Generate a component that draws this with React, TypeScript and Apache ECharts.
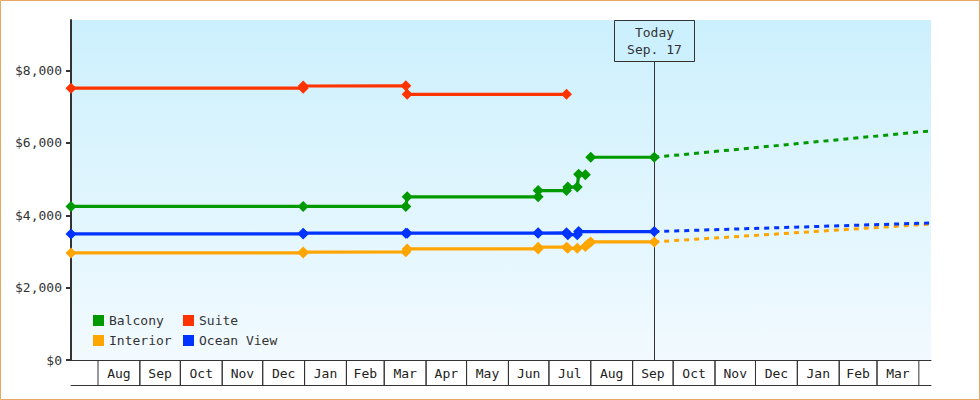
import { useEffect, useRef } from "react";
import * as echarts from "echarts";

// dates are parsed as local midnight so everything lines up on the time axis
const ts = (s: string) => {
  const [y, m, d] = s.split("-").map(Number);
  return new Date(y, m - 1, d).getTime();
};

const FONT = '"DejaVu Sans Mono", monospace';
const INK = "#333333";

const axisStart = "2013-07-12";
const axisEnd = "2015-04-10";
const today = "2014-09-17";
const todayLabel = ["Today", "Sep. 17"];

const yTicks = [0, 2000, 4000, 6000, 8000];
const yMax = 9400;

const monthStarts = [
  "2013-08-01", "2013-09-01", "2013-10-01", "2013-11-01", "2013-12-01",
  "2014-01-01", "2014-02-01", "2014-03-01", "2014-04-01", "2014-05-01",
  "2014-06-01", "2014-07-01", "2014-08-01", "2014-09-01", "2014-10-01",
  "2014-11-01", "2014-12-01", "2015-01-01", "2015-02-01", "2015-03-01",
  "2015-04-01",
];
const monthLabels = [
  "Aug", "Sep", "Oct", "Nov", "Dec", "Jan", "Feb", "Mar", "Apr", "May",
  "Jun", "Jul", "Aug", "Sep", "Oct", "Nov", "Dec", "Jan", "Feb", "Mar",
];

type Pt = [string, number | null];

const balcony: Pt[] = [
  ["2013-07-12", 4245], ["2013-12-31", 4245], ["2014-03-17", 4245],
  ["2014-03-18", 4510], ["2014-06-23", 4510], ["2014-06-23", 4685],
  ["2014-07-14", 4685], ["2014-07-15", 4780], ["2014-07-22", 4780],
  ["2014-07-23", 5135], ["2014-07-28", 5125], ["2014-08-01", null],
  ["2014-08-01", 5605], ["2014-09-17", 5605],
];
const suite: Pt[] = [
  ["2013-07-12", 7515], ["2013-12-31", 7515], ["2013-12-31", 7575],
  ["2014-03-17", 7580], ["2014-03-18", 7345], ["2014-07-14", 7345],
];
const interior: Pt[] = [
  ["2013-07-12", 2960], ["2013-12-31", 2960], ["2013-12-31", 2985],
  ["2014-03-17", 2990], ["2014-03-18", 3070], ["2014-06-23", 3070],
  ["2014-06-23", 3120], ["2014-07-14", 3120], ["2014-07-15", 3090],
  ["2014-07-22", 3090], ["2014-07-28", 3140], ["2014-07-30", 3205],
  ["2014-08-01", 3265], ["2014-09-17", 3265],
];
const oceanView: Pt[] = [
  ["2013-07-12", 3485], ["2013-12-31", 3485], ["2013-12-31", 3505],
  ["2014-03-17", 3505], ["2014-03-18", 3505], ["2014-06-23", 3505],
  ["2014-06-23", 3515], ["2014-07-14", 3515], ["2014-07-15", 3465],
  ["2014-07-22", 3465], ["2014-07-23", 3550], ["2014-09-17", 3550],
];

// projections from today to the end of the axis
const balconyForecast: Pt[] = [["2014-09-17", 5605], ["2015-04-10", 6335]];
const oceanViewForecast: Pt[] = [["2014-09-17", 3550], ["2015-04-10", 3790]];
const interiorForecast: Pt[] = [["2014-09-17", 3265], ["2015-04-10", 3760]];

const colors = {
  Balcony: "#009900",
  Suite: "#ff3300",
  Interior: "#ffa500",
  "Ocean View": "#0033ff",
};

const toData = (pts: Pt[]) => pts.map(([d, v]) => [ts(d), v]);

const history = (name: keyof typeof colors, pts: Pt[]) => ({
  name,
  type: "line",
  data: toData(pts),
  color: colors[name],
  symbol: "diamond",
  symbolSize: 11,
  showAllSymbol: true,
  connectNulls: false,
  lineStyle: { width: 3.2 },
  emphasis: { disabled: true },
  z: 3,
});

const forecast = (name: keyof typeof colors, pts: Pt[]) => ({
  name: name + " forecast",
  type: "line",
  data: toData(pts),
  color: colors[name],
  showSymbol: false,
  lineStyle: { width: 3, type: [5, 5] },
  emphasis: { disabled: true },
  z: 2,
});

const legendBase = {
  orient: "vertical",
  top: 309,
  itemGap: 7,
  itemWidth: 11,
  itemHeight: 11,
  icon: "rect",
  selectedMode: false,
  textStyle: { fontFamily: FONT, fontSize: 13, color: INK },
};

export default function App() {
  const ref = useRef<HTMLDivElement>(null);

  useEffect(() => {
    document.body.style.margin = "0";
    if (!ref.current) return;
    const chart = echarts.init(ref.current, null, { renderer: "svg" });

    const monthCells = monthLabels.map((_, i) => [
      ts(monthStarts[i]),
      0,
      ts(monthStarts[i + 1]),
    ]);

    const option = {
      animation: false,
      grid: {
        left: 71,
        right: 49,
        top: 20,
        bottom: 40,
        show: true,
        borderWidth: 0,
        outerBoundsMode: "none",
        backgroundColor: new echarts.graphic.LinearGradient(0, 0, 0, 1, [
          { offset: 0, color: "#ccf0fd" },
          { offset: 1, color: "#f2faff" },
        ]),
      },
      xAxis: [
        {
          type: "time",
          min: ts(axisStart),
          max: ts(axisEnd),
          axisLine: { lineStyle: { color: INK, width: 1 } },
          axisTick: { show: false },
          axisLabel: { show: false },
          splitLine: { show: false },
        },
        {
          type: "time",
          min: ts(axisStart),
          max: ts(axisEnd),
          position: "bottom",
          offset: 25,
          axisLine: { lineStyle: { color: INK, width: 1 } },
          axisTick: { show: false },
          axisLabel: { show: false },
          splitLine: { show: false },
        },
      ],
      yAxis: {
        type: "value",
        min: 0,
        max: yMax,
        interval: 2000,
        axisLine: { show: true, lineStyle: { color: INK, width: 2 } },
        axisTick: {
          show: true,
          length: 5,
          customValues: yTicks,
          lineStyle: { color: INK, width: 2 },
        },
        axisLabel: {
          margin: 9,
          customValues: yTicks,
          fontFamily: FONT,
          fontSize: 13,
          color: INK,
          formatter: (v: number) => "$" + v.toLocaleString("en-US"),
        },
        splitLine: { show: false },
      },
      legend: [
        { ...legendBase, left: 88, data: ["Balcony", "Interior"] },
        { ...legendBase, left: 178, data: ["Suite", "Ocean View"] },
      ],
      graphic: [
        {
          type: "rect",
          shape: { x: 0.5, y: 0.5, width: 979, height: 399 },
          style: { fill: null, stroke: "#e8a863", lineWidth: 1 },
          silent: true,
        },
      ],
      series: [
        forecast("Interior", interiorForecast),
        forecast("Ocean View", oceanViewForecast),
        forecast("Balcony", balconyForecast),
        history("Interior", interior),
        history("Ocean View", oceanView),
        history("Balcony", balcony),
        history("Suite", suite),
        {
          // month cells under the plot
          type: "custom",
          silent: true,
          data: monthCells,
          encode: { x: [0, 2], y: 1 },
          z: 1,
          renderItem: (params: any, api: any) => {
            const cs = params.coordSys;
            const x0 = api.coord([api.value(0), 0])[0];
            const x1 = api.coord([api.value(2), 0])[0];
            const y0 = cs.y + cs.height;
            const line = (x: number) => ({
              type: "line",
              shape: { x1: x, y1: y0, x2: x, y2: y0 + 25 },
              style: { stroke: INK, lineWidth: 1 },
            });
            return {
              type: "group",
              children: [
                line(x0),
                line(x1),
                {
                  type: "text",
                  style: {
                    x: (x0 + x1) / 2,
                    y: y0 + 13,
                    text: monthLabels[params.dataIndex],
                    align: "center",
                    verticalAlign: "middle",
                    fontFamily: FONT,
                    fontSize: 13,
                    fill: "#222",
                  },
                },
              ],
            };
          },
        },
        {
          // today marker
          type: "custom",
          silent: true,
          data: [[ts(today), 0]],
          z: 1,
          renderItem: (params: any, api: any) => {
            const cs = params.coordSys;
            const x = Math.round(api.coord([api.value(0), 0])[0]) + 0.5;
            const top = cs.y + 0.5;
            const boxH = 41;
            return {
              type: "group",
              children: [
                {
                  type: "line",
                  shape: { x1: x, y1: top + boxH, x2: x, y2: cs.y + cs.height },
                  style: { stroke: INK, lineWidth: 1 },
                },
                {
                  type: "rect",
                  shape: { x: x - 40, y: top, width: 80, height: boxH },
                  style: { fill: "#ccf0fd", stroke: INK, lineWidth: 1 },
                },
                {
                  type: "text",
                  style: {
                    x,
                    y: top + boxH / 2,
                    text: todayLabel.join("\n"),
                    align: "center",
                    verticalAlign: "middle",
                    lineHeight: 17,
                    fontFamily: FONT,
                    fontSize: 13,
                    fill: INK,
                  },
                },
              ],
            };
          },
        },
      ],
    };

    chart.setOption(option as any);
    return () => chart.dispose();
  }, []);

  return <div ref={ref} style={{ width: 980, height: 400 }} />;
}
